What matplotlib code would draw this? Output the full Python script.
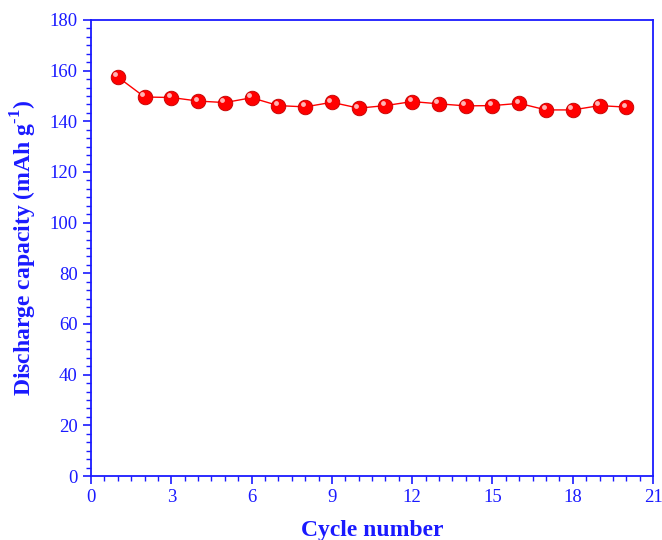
import numpy as np
import matplotlib
matplotlib.use('Agg')
import matplotlib.pyplot as plt
from matplotlib.ticker import AutoMinorLocator, MultipleLocator
import matplotlib.transforms as mtransforms

plt.rcParams['font.family'] = ['Liberation Serif', 'DejaVu Serif']
plt.rcParams['mathtext.fontset'] = 'custom'
plt.rcParams['mathtext.rm'] = 'Liberation Serif:bold'
plt.rcParams['mathtext.bf'] = 'Liberation Serif:bold'

cycles = np.arange(1, 21)
capacity = np.array([157.5, 149.6, 149.4, 148.0, 147.4, 149.3, 146.2, 145.7, 147.5, 145.2,
                     146.2, 147.8, 146.9, 146.1, 146.2, 147.1, 144.5, 144.5, 146.2, 145.6])

blue = '#1a1aff'
fig = plt.figure(figsize=(6.62, 5.4), dpi=100, facecolor='white')
ax = fig.add_axes([0.1375, 0.1185, 0.849, 0.8445])

ax.plot(cycles, capacity, '-', color='red', lw=1, zorder=2)
ax.plot(cycles, capacity, 'o', color='#ff0000', mec='#c00000', mew=0.6, ms=10.5, zorder=3)
# little shine on each ball
shine = mtransforms.offset_copy(ax.transData, fig=fig, x=-1.8, y=1.8, units='points')
ax.plot(cycles, capacity, 'o', color='#ffc8c8', mec='none', ms=3.5, alpha=0.9,
        transform=shine, zorder=4)

ax.set_xlim(0, 21)
ax.set_ylim(0, 180)
ax.xaxis.set_major_locator(MultipleLocator(3))
ax.yaxis.set_major_locator(MultipleLocator(20))
ax.xaxis.set_minor_locator(AutoMinorLocator(6))
ax.yaxis.set_minor_locator(AutoMinorLocator(6))
ax.tick_params(which='both', direction='out', colors=blue, top=False, right=False,
               labelsize=13.5)
ax.tick_params(which='major', length=6, width=1.2)
ax.tick_params(which='minor', length=3.5, width=1)
for s in ax.spines.values():
    s.set_color(blue)
    s.set_linewidth(1.3)

ax.set_xlabel('Cycle number', fontsize=17, fontweight='bold', color=blue, labelpad=10)
ax.set_ylabel(r'Discharge capacity (mAh g$^{\text{-1}}$)', fontsize=17,
              fontweight='bold', color=blue, labelpad=8)

plt.savefig('out.png', dpi=100)
